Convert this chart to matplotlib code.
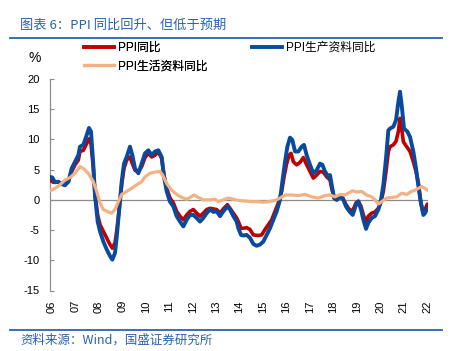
import matplotlib
matplotlib.use("Agg")
import matplotlib.pyplot as plt
from matplotlib.lines import Line2D

plt.rcParams['font.family'] = ['Liberation Sans', 'Noto Sans CJK SC', 'DejaVu Sans']

# ---------------- data (x in decimal years since 2000, y in %) ----------------
ppi_x = [5.914, 6.057, 6.199, 6.412, 6.554, 6.696, 6.839, 6.981, 7.123, 7.194, 7.336, 7.479,
         7.578, 7.663, 7.763, 7.834, 7.948, 8.047, 8.190, 8.332, 8.474, 8.574, 8.687, 8.758,
         8.858, 8.972, 9.071, 9.185, 9.327, 9.427, 9.541, 9.683, 9.825,
         9.967, 10.110, 10.252, 10.394, 10.536, 10.678, 10.778, 10.892, 11.034, 11.176, 11.318,
         11.460, 11.603, 11.745, 11.887, 12.029, 12.172, 12.314, 12.456, 12.598, 12.740, 12.883,
         13.025, 13.167, 13.309, 13.480, 13.594, 13.736, 13.878,
         13.949, 14.063, 14.163, 14.305, 14.447, 14.589, 14.802, 14.945, 15.087, 15.229, 15.371,
         15.513, 15.656, 15.798, 15.912, 16.011, 16.111, 16.196, 16.296, 16.438, 16.580, 16.722,
         16.864, 17.007, 17.149, 17.291, 17.433, 17.575, 17.718, 17.860,
         17.931, 18.031, 18.144, 18.258, 18.400, 18.543, 18.685, 18.827, 18.969, 19.069, 19.183,
         19.282, 19.396, 19.495, 19.638, 19.780, 19.922, 20.022, 20.135, 20.249, 20.349, 20.420,
         20.562, 20.676, 20.775, 20.846, 20.917, 20.989, 21.131, 21.273, 21.415, 21.529, 21.643,
         21.728, 21.813, 21.913, 22.012]
ppi_y = [3.3, 2.9, 3.0, 2.7, 2.6, 3.0, 4.7, 5.8, 6.6, 8.0, 8.2, 9.3,
         10.1, 9.3, 5.2, 0.8, -2.5, -4.1, -5.2, -6.3, -7.4, -8.0, -7.1, -5.2,
         -1.9, 2.5, 5.2, 6.6, 7.1, 6.0, 4.9, 4.6, 5.5,
         7.0, 7.7, 7.1, 7.4, 7.9, 6.9, 4.1, 1.9, 0.3, -0.5, -1.9,
         -2.7, -3.3, -2.5, -1.9, -1.6, -2.2, -2.7, -2.2, -1.6, -1.4, -1.5,
         -1.6, -2.2, -1.5, -0.8, -1.4, -2.2, -3.0,
         -3.6, -4.7, -4.7, -4.6, -4.9, -5.8, -5.9, -5.8, -4.9, -4.1, -3.3,
         -1.9, -0.5, 1.4, 4.1, 6.0, 7.4, 7.7, 6.3, 5.8, 6.2, 7.0,
         5.8, 4.7, 3.6, 4.1, 4.7, 4.6, 3.8, 3.3,
         1.9, 0.4, 0.0, 0.5, 0.3, -0.8, -1.6, -1.8, -0.5, -0.2, -1.1,
         -2.5, -3.6, -2.7, -2.2, -2.0, -1.4, -0.5, 1.4, 4.7, 8.0, 8.8,
         9.1, 9.7, 11.3, 13.5, 11.8, 9.6, 8.8, 8.0, 6.3, 4.7, 2.5,
         -0.3, -1.9, -1.6, -0.7]

prod_x = [5.914, 6.014, 6.128, 6.270, 6.412, 6.554, 6.696, 6.839, 6.981, 7.123, 7.194, 7.336,
          7.479, 7.578, 7.663, 7.763, 7.834, 7.948, 8.047, 8.190, 8.332, 8.474, 8.574, 8.687,
          8.758, 8.858, 8.972, 9.071, 9.185, 9.327, 9.427, 9.541, 9.683, 9.825,
          9.967, 10.110, 10.252, 10.394, 10.536, 10.678, 10.778, 10.892, 11.034, 11.176, 11.318,
          11.460, 11.603, 11.745, 11.887, 12.029, 12.172, 12.314, 12.456, 12.598, 12.740, 12.883,
          13.025, 13.167, 13.309, 13.480, 13.594, 13.736, 13.878,
          13.949, 14.063, 14.163, 14.305, 14.447, 14.589, 14.731, 14.874, 15.016, 15.158, 15.300,
          15.442, 15.585, 15.727, 15.826, 15.940, 16.040, 16.153, 16.253, 16.367, 16.509, 16.651,
          16.751, 16.864, 17.007, 17.149, 17.291, 17.433, 17.533, 17.647, 17.789,
          17.860, 17.931, 18.031, 18.144, 18.258, 18.400, 18.543, 18.685, 18.827, 18.969, 19.069,
          19.183, 19.282, 19.396, 19.495, 19.638, 19.780, 19.922, 20.022, 20.135, 20.249, 20.349,
          20.420, 20.562, 20.676, 20.775, 20.846, 20.917, 21.017, 21.159, 21.273, 21.415, 21.529,
          21.643, 21.728, 21.842, 21.913, 22.012]
prod_y = [3.8, 3.7, 2.9, 3.0, 2.6, 2.4, 3.0, 5.2, 6.3, 7.4, 8.8, 9.1,
          10.7, 11.9, 11.3, 5.8, 0.8, -3.6, -5.2, -6.9, -8.2, -9.3, -9.9, -8.8,
          -6.3, -1.9, 3.0, 6.0, 7.1, 8.8, 7.4, 5.2, 4.4, 6.0,
          7.7, 8.2, 7.4, 8.0, 8.2, 7.1, 3.8, 1.4, -0.3, -1.1, -2.7,
          -3.6, -4.4, -3.3, -2.5, -2.5, -3.0, -3.6, -3.0, -2.2, -1.6, -2.0,
          -1.9, -2.7, -1.9, -1.1, -1.6, -2.7, -3.6,
          -4.7, -5.8, -5.9, -5.8, -6.3, -7.3, -7.6, -7.4, -6.9, -5.8, -4.7,
          -3.3, -1.9, 0.0, 3.0, 6.3, 8.8, 10.3, 9.9, 8.0, 8.0, 8.8,
          9.1, 7.4, 5.8, 4.4, 4.9, 6.0, 5.8, 4.7, 3.8,
          4.1, 2.5, 0.3, 0.0, 0.4, 0.3, -1.1, -1.9, -2.5, -0.8, -0.3,
          -1.6, -3.3, -4.8, -3.8, -3.0, -2.7, -1.6, -0.3, 2.5, 6.9, 11.5,
          11.8, 12.1, 13.2, 16.2, 17.9, 15.7, 11.8, 11.3, 10.4, 8.0, 5.2,
          1.9, -0.3, -2.5, -2.2, -1.4]

cons_x = [5.914, 6.128, 6.341, 6.554, 6.768, 6.981, 7.194, 7.336, 7.550, 7.763, 7.905, 8.047,
          8.190, 8.403, 8.545, 8.687, 8.830, 8.972, 9.185, 9.398, 9.612, 9.825,
          9.967, 10.181, 10.394, 10.607, 10.721, 10.892, 11.105, 11.318, 11.532, 11.745, 11.887,
          12.058, 12.243, 12.456, 12.740, 12.954, 13.096, 13.309, 13.523, 13.736,
          13.949, 14.234, 14.518, 14.802, 15.016, 15.229, 15.513, 15.727, 15.940, 16.225, 16.509,
          16.793, 17.078, 17.362, 17.647,
          17.860, 18.073, 18.287, 18.500, 18.642, 18.827, 18.998, 19.211, 19.424, 19.638, 19.780,
          19.922, 20.064, 20.278, 20.491, 20.704, 20.917, 21.131, 21.344, 21.486, 21.629, 21.771,
          21.913, 22.012]
cons_y = [1.5, 1.9, 2.5, 3.3, 3.7, 4.4, 5.5, 5.2, 4.4, 3.0, 1.4, -0.5,
          -1.6, -2.0, -2.2, -1.6, -0.3, 0.9, 1.4, 1.9, 2.5, 3.0,
          3.8, 4.4, 4.6, 4.7, 4.1, 2.7, 1.6, 0.9, 0.4, 0.1, 0.4,
          0.8, 0.4, 0.0, 0.0, 0.1, -0.3, 0.0, 0.3, 0.1,
          -0.1, -0.2, -0.3, -0.3, -0.4, -0.3, -0.1, 0.3, 0.8, 0.8, 0.7,
          0.9, 0.5, 0.3, 0.7,
          0.8, 0.5, 0.9, 0.8, 1.1, 1.5, 1.3, 1.4, 0.8, 0.5, 0.0,
          -0.7, -0.3, 0.3, 0.4, 0.5, 1.1, 0.9, 1.4, 1.6, 1.9, 2.2,
          1.9, 1.6]

year_ticks = list(range(6, 23))
year_labels = ["06", "07", "08", "09", "10", "11", "12", "13", "14", "15", "16",
               "17", "18", "19", "20", "21", "22"]
y_ticks = [-15, -10, -5, 0, 5, 10, 15, 20]

series_names = ["PPI同比", "PPI生产资料同比", "PPI生活资料同比"]
title_text = "图表 6：PPI 同比回升、但低于预期"
source_text = "资料来源：Wind，国盛证券研究所"

# ---------------- styling ----------------
RED = "#C00000"
BLUE = "#0A4A9E"
ORANGE = "#F4B183"
GRAY = "#8C8C8C"
HEAD = "#2A62AE"

W, H = 461, 351
fig = plt.figure(figsize=(W / 100, H / 100), dpi=100)

def fx(px):
    return px / W

def fy(py):
    return 1 - py / H

ax = fig.add_axes([fx(49.5), fy(290.5), fx(428) - fx(49.5), fy(79) - fy(290.5)])

ax.plot(ppi_x, ppi_y, color=RED, lw=2.6, solid_joinstyle="round", solid_capstyle="round", zorder=3)
ax.plot(prod_x, prod_y, color=BLUE, lw=2.8, solid_joinstyle="round", solid_capstyle="round", zorder=4)
ax.plot(cons_x, cons_y, color=ORANGE, lw=2.3, solid_joinstyle="round", solid_capstyle="round", zorder=5)

ax.axhline(0, color=GRAY, lw=0.9, zorder=2)

ax.set_xlim(5.893, 22.04)
ax.set_ylim(-15, 20)
ax.set_yticks(y_ticks)
ax.set_yticklabels([str(v) for v in y_ticks])
ax.set_xticks(year_ticks)
ax.set_xticklabels(year_labels, rotation=90)

for s in ["top", "right", "bottom"]:
    ax.spines[s].set_visible(False)
ax.spines["left"].set_color(GRAY)
ax.spines["left"].set_linewidth(0.9)

ax.tick_params(axis="y", direction="in", length=3, width=0.8, color=GRAY,
               labelsize=8, pad=7, labelcolor="black")
ax.tick_params(axis="x", length=0, labelsize=8, pad=7, labelcolor="black")
ax.set_facecolor("white")

# percent sign
fig.text(fx(35), fy(58), "%", fontsize=10, ha="center", va="center")

# legends
h_red = Line2D([], [], color=RED, lw=2.6)
h_blue = Line2D([], [], color=BLUE, lw=2.8)
h_orange = Line2D([], [], color=ORANGE, lw=2.3)
leg1 = fig.legend([h_red, h_orange], [series_names[0], series_names[2]],
                  loc="upper left", bbox_to_anchor=(fx(84), fy(42)), frameon=False,
                  fontsize=8.5, handlelength=2.5, handletextpad=0.35, labelspacing=0.55,
                  borderpad=0, borderaxespad=0)
fig.add_artist(leg1)
fig.legend([h_blue], [series_names[1]],
           loc="upper left", bbox_to_anchor=(fx(252), fy(42)), frameon=False,
           fontsize=8.5, handlelength=2.5, handletextpad=0.35,
           borderpad=0, borderaxespad=0)

# header / footer
fig.text(fx(20), fy(25), title_text, fontsize=9.5, color=HEAD, ha="left", va="center",
         family=["Noto Sans CJK SC", "DejaVu Sans"])
fig.add_artist(Line2D([fx(10), fx(442)], [fy(37.7), fy(37.7)], color=HEAD, lw=1.3))
fig.add_artist(Line2D([fx(10), fx(442)], [fy(329.5), fy(329.5)], color=HEAD, lw=1.3))
fig.text(fx(20), fy(340), source_text, fontsize=9, color=HEAD, ha="left", va="center",
         family=["Noto Sans CJK SC", "DejaVu Sans"])

fig.savefig("out.png", dpi=100, facecolor="white")
